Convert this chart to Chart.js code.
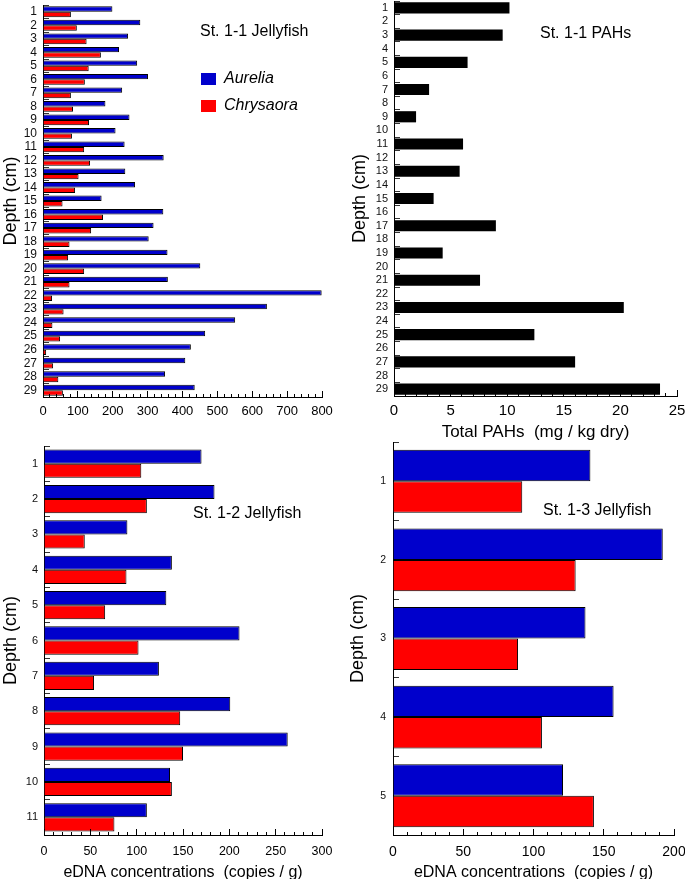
<!DOCTYPE html>
<html>
<head>
<meta charset="utf-8">
<script src="https://cdn.jsdelivr.net/npm/chart.js@4.4.1/dist/chart.umd.min.js"></script>
<style>
  body { margin: 0; background: #fff; overflow: hidden; }
  canvas { position: absolute; }
</style>
</head>
<body>
<canvas id="st11jelly" width="340" height="440" style="left:0;top:0"></canvas>
<canvas id="st11pahs" width="345" height="446" style="left:340px;top:0"></canvas>
<canvas id="st12jelly" width="340" height="439" style="left:0;top:440px"></canvas>
<canvas id="st13jelly" width="345" height="439" style="left:340px;top:440px"></canvas>
<script>
// depth labels (cm)
const depths29 = ['1','2','3','4','5','6','7','8','9','10','11','12','13','14','15',
  '16','17','18','19','20','21','22','23','24','25','26','27','28','29'];
const depths11 = ['1','2','3','4','5','6','7','8','9','10','11'];
const depths5 = ['1','2','3','4','5'];

// St. 1-1 jellyfish eDNA (copies / g)
const aureliaSt11 = [199, 279, 244, 218, 270, 301, 227, 179, 248, 208, 234, 346, 236, 264, 168,
  345, 317, 303, 357, 451, 358, 799, 642, 551, 465, 424, 408, 350, 435];
const chrysaoraSt11 = [80, 97, 125, 166, 131, 120, 80, 86, 132, 83, 118, 135, 102, 92, 56,
  172, 138, 76, 72, 118, 76, 26, 59, 27, 49, 9, 29, 44, 57];

// St. 1-1 total PAHs (mg / kg dry), only odd depths measured
const pahsSt11 = [10.2, null, 9.6, null, 6.5, null, 3.1, null, 1.95, null, 6.1, null, 5.8, null, 3.5,
  null, 9.0, null, 4.3, null, 7.6, null, 20.3, null, 12.4, null, 16.0, null, 23.5];

// St. 1-2 jellyfish
const aureliaSt12 = [170, 184, 90, 138, 132, 211, 124, 201, 263, 136, 111];
const chrysaoraSt12 = [105, 111, 44, 89, 66, 102, 54, 147, 150, 138, 76];

// St. 1-3 jellyfish
const aureliaSt13 = [140.5, 192, 137, 157, 121];
const chrysaoraSt13 = [92, 130, 89, 106, 143];

const BLUE = '#0000cc';
const RED = '#ff0000';
const FONT = "'Liberation Sans', Arial, Helvetica, sans-serif";

Chart.defaults.font.family = FONT;
Chart.defaults.color = '#000';
Chart.defaults.animation = false;

// draws the little panel caption inside the plot
const panelText = {
  id: 'panelText',
  afterDraw(chart, args, opts) {
    if (!opts.text) return;
    const ctx = chart.ctx;
    ctx.save();
    ctx.font = opts.size + 'px ' + FONT;
    ctx.fillStyle = '#000';
    ctx.textBaseline = 'middle';
    ctx.fillText(opts.text, opts.x, opts.y);
    ctx.restore();
  }
};

// moves a 'chartArea' legend to a spot inside the plot
const legendOffset = {
  id: 'legendOffset',
  afterLayout(chart, args, opts) {
    const lg = chart.legend;
    if (!lg || !opts.dx) return;
    lg.left += opts.dx; lg.right += opts.dx;
    lg.top += opts.dy; lg.bottom += opts.dy;
  }
};

function depthAxis(labels, width, fontSize, pad, titlePad) {
  return {
    type: 'category',
    labels: labels,
    offset: true,
    afterFit: (s) => { s.width = width; s.paddingTop = 0; s.paddingBottom = 0; },
    border: { color: '#000', width: 1 },
    grid: { offset: true, drawOnChartArea: false, tickLength: -6, color: '#333' },
    ticks: { font: { size: fontSize }, padding: pad, autoSkip: false, color: '#111' },
    title: { display: true, text: 'Depth (cm)', font: { size: 18 }, padding: { top: titlePad, bottom: 0 } }
  };
}

function valueAxes(max, major, minor, height, fontSize, pad, title, titleSize, titlePad) {
  return {
    x: {
      type: 'linear', position: 'bottom', weight: 1,
      min: 0, max: max,
      afterFit: (s) => { s.height = height; s.paddingLeft = 0; s.paddingRight = 0; },
      border: { color: '#000', width: 1, z: 1 },
      grid: { drawOnChartArea: false, tickLength: -6, color: '#000', z: 1 },
      ticks: { stepSize: major, font: { size: fontSize }, padding: pad, color: '#000' },
      title: { display: !!title, text: title, font: { size: titleSize }, padding: { top: 0, bottom: titlePad } }
    },
    xm: {
      type: 'linear', position: 'bottom', weight: 0,
      min: 0, max: max,
      afterFit: (s) => { s.height = 0; s.paddingLeft = 0; s.paddingRight = 0; },
      border: { display: false },
      grid: { drawOnChartArea: false, tickLength: -3, color: '#000', z: 1 },
      ticks: { stepSize: minor, display: false, autoSkip: false }
    }
  };
}

function jellyDatasets(aurelia, chrysaora) {
  return [
    { label: 'Aurelia', data: aurelia, backgroundColor: BLUE, borderColor: '#000', borderWidth: 1,
      categoryPercentage: 0.8, barPercentage: 1 },
    { label: 'Chrysaora', data: chrysaora, backgroundColor: RED, borderColor: '#000', borderWidth: 1,
      categoryPercentage: 0.8, barPercentage: 1 }
  ];
}

const noLegend = { display: false };
const noTip = { enabled: false };

// St. 1-1 Jellyfish
new Chart(document.getElementById('st11jelly'), {
  type: 'bar',
  data: { labels: depths29, datasets: jellyDatasets(aureliaSt11, chrysaoraSt11) },
  options: {
    responsive: false,
    indexAxis: 'y',
    layout: { padding: { left: 0, top: 5, right: 18, bottom: 0 } },
    scales: Object.assign({ y: depthAxis(depths29, 43, 12, 12, 0) },
      valueAxes(800, 100, 20, 43, 13, 13, '', 16, 0)),
    plugins: {
      tooltip: noTip,
      legend: {
        display: true, position: 'chartArea', align: 'start',
        labels: {
          boxWidth: 15, boxHeight: 12, padding: 11, color: '#000',
          font: { size: 16, style: 'italic' },
          generateLabels: (chart) => Chart.defaults.plugins.legend.labels.generateLabels(chart)
            .map(l => Object.assign(l, { lineWidth: 0, strokeStyle: l.fillStyle }))
        }
      },
      legendOffset: { dx: 147, dy: 60 },
      panelText: { text: 'St. 1-1 Jellyfish', x: 200, y: 32, size: 16 }
    }
  },
  plugins: [panelText, legendOffset]
});

// St. 1-1 PAHs
new Chart(document.getElementById('st11pahs'), {
  type: 'bar',
  data: {
    labels: depths29,
    datasets: [{ label: 'Total PAHs', data: pahsSt11, backgroundColor: '#000', borderColor: '#000',
      borderWidth: 0, categoryPercentage: 1, barPercentage: 0.82 }]
  },
  options: {
    responsive: false,
    indexAxis: 'y',
    layout: { padding: { left: 0, top: 1, right: 8, bottom: 0 } },
    scales: Object.assign({ y: depthAxis(depths29, 54, 11, 12, 9) },
      valueAxes(25, 5, 1, 50, 15, 12, 'Total PAHs  (mg / kg dry)', 17, 3)),
    plugins: {
      tooltip: noTip,
      legend: noLegend,
      panelText: { text: 'St. 1-1 PAHs', x: 200, y: 34, size: 16 }
    }
  },
  plugins: [panelText]
});

// St. 1-2 Jellyfish
new Chart(document.getElementById('st12jelly'), {
  type: 'bar',
  data: { labels: depths11, datasets: jellyDatasets(aureliaSt12, chrysaoraSt12) },
  options: {
    responsive: false,
    indexAxis: 'y',
    layout: { padding: { left: 0, top: 6, right: 18, bottom: 0 } },
    scales: Object.assign({ y: depthAxis(depths11, 44, 11, 12, 0) },
      valueAxes(300, 50, 10, 44, 12.5, 15.5, 'eDNA concentrations  (copies / g)', 16, -3.5)),
    plugins: {
      tooltip: noTip,
      legend: noLegend,
      panelText: { text: 'St. 1-2 Jellyfish', x: 193, y: 74, size: 16 }
    }
  },
  plugins: [panelText]
});

// St. 1-3 Jellyfish
new Chart(document.getElementById('st13jelly'), {
  type: 'bar',
  data: { labels: depths5, datasets: jellyDatasets(aureliaSt13, chrysaoraSt13) },
  options: {
    responsive: false,
    indexAxis: 'y',
    layout: { padding: { left: 0, top: 2, right: 11, bottom: 0 } },
    scales: Object.assign({ y: depthAxis(depths5, 53, 10.5, 13, 7) },
      valueAxes(200, 50, 10, 44, 14, 14.5, 'eDNA concentrations  (copies / g)', 16, -3.5)),
    plugins: {
      tooltip: noTip,
      legend: noLegend,
      panelText: { text: 'St. 1-3 Jellyfish', x: 203, y: 71, size: 16 }
    }
  },
  plugins: [panelText]
});
</script>
</body>
</html>
